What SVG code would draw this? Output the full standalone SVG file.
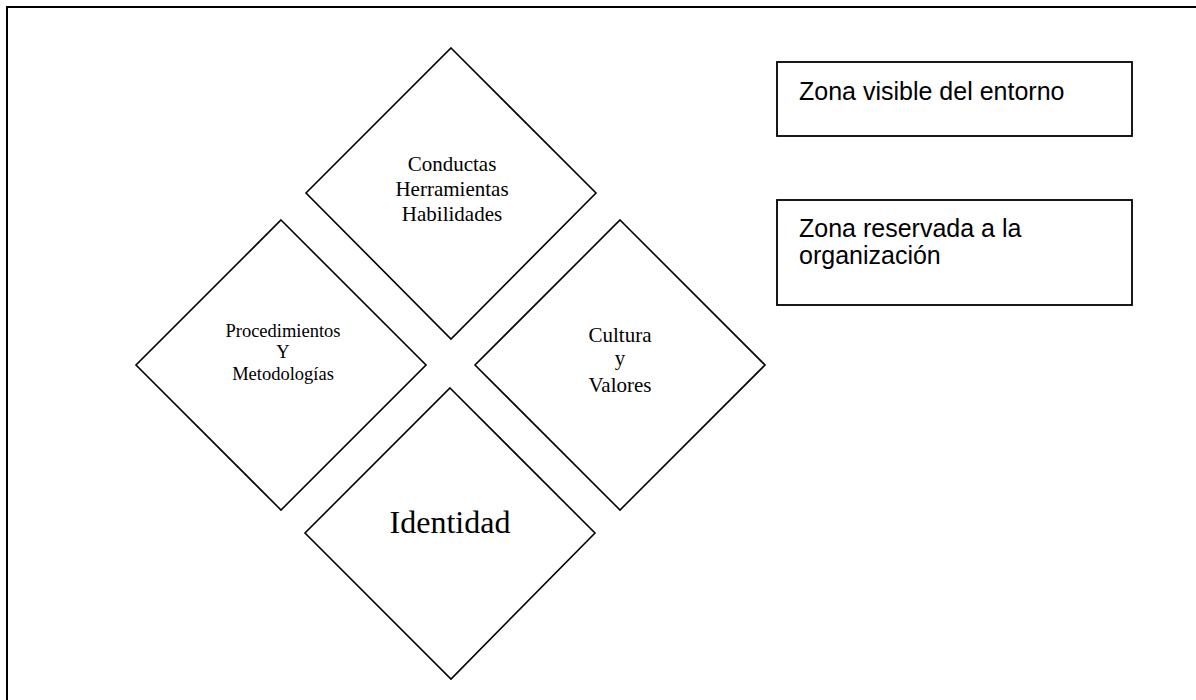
<svg xmlns="http://www.w3.org/2000/svg" width="1196" height="700" viewBox="0 0 1196 700">
<style>
.dia{fill:#fff;stroke:#000;stroke-width:1.6}
.box{fill:#fff;stroke:#000;stroke-width:1.8}
.serif{font-family:"Liberation Serif","Times New Roman",serif;fill:#000;text-anchor:middle}
.sans{font-family:"Liberation Sans",Arial,sans-serif;fill:#000;font-size:25px}
</style>
<rect width="1196" height="700" fill="#fff"/>
<g id="frame">
<polyline points="7,700 7,7 1196,7" fill="none" stroke="#000" stroke-width="2"/>
</g>
<g id="connectors"></g>
<g id="node-conductas">
<polygon class="dia" points="451,48 596,193 451,339 306,193"/>
<text class="serif" font-size="21" x="452" y="171">Conductas</text>
<text class="serif" font-size="21" x="452" y="196">Herramientas</text>
<text class="serif" font-size="21" x="452" y="221">Habilidades</text>
</g>
<g id="node-procedimientos">
<polygon class="dia" points="281,220 426,365 281,510 136,365"/>
<text class="serif" font-size="18.5" x="283" y="337">Procedimientos</text>
<text class="serif" font-size="18.5" x="283" y="358">Y</text>
<text class="serif" font-size="18.5" x="283" y="380">Metodologías</text>
</g>
<g id="node-cultura">
<polygon class="dia" points="620,220 765,365 620,510 475,365"/>
<text class="serif" font-size="21" x="620" y="342">Cultura</text>
<text class="serif" font-size="21" x="620" y="365">y</text>
<text class="serif" font-size="21" x="620" y="392">Valores</text>
</g>
<g id="node-identidad">
<polygon class="dia" points="450,388 595,533 451,679 305,533"/>
<text class="serif" font-size="32" x="450" y="533">Identidad</text>
</g>
<g id="node-visible">
<rect class="box" x="777" y="62" width="355" height="74"/>
<text class="sans" x="799" y="100" font-size="26">Zona visible del entorno</text>
</g>
<g id="node-reservada">
<rect class="box" x="777" y="200" width="355" height="105"/>
<text class="sans" x="799" y="237" font-size="26">Zona reservada a la</text>
<text class="sans" x="799" y="264" font-size="26">organización</text>
</g>
</svg>
